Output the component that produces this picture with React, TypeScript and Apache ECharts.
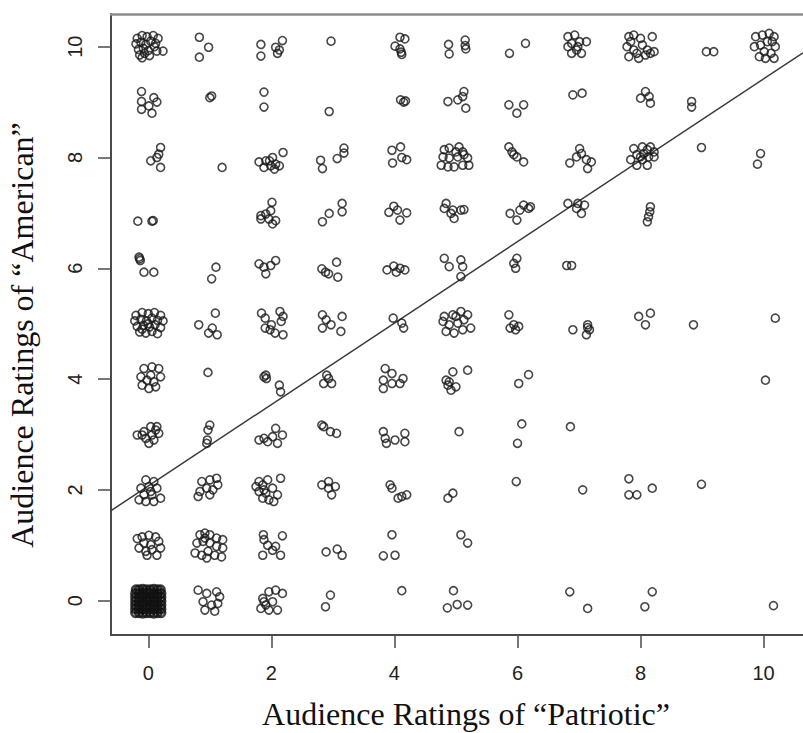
import { useEffect, useRef } from "react";
import * as echarts from "echarts";

// Axis ticks and titles
const xTicks = [0, 2, 4, 6, 8, 10];
const yTicks = [0, 2, 4, 6, 8, 10];
const xTitle = "Audience Ratings of \u201cPatriotic\u201d";
const yTitle = "Audience Ratings of \u201cAmerican\u201d";

// Jittered responses: [patriotic rating, american rating], grouped by the "American" rating
const americanTen: [number, number][] = [
  [-0.18, 10.15], [-0.1, 10.2], [-0.02, 10.18], [0.08, 10.2], [0.16, 10.15], [-0.2, 10.05], [-0.12, 10.08],
  [-0.04, 10.04], [0.04, 10.1], [0.12, 10.06], [-0.16, 9.95], [-0.08, 9.97], [0.0, 9.93], [-0.14, 9.85],
  [-0.06, 9.88], [0.02, 9.84], [0.14, 9.92], [0.24, 9.92], [-0.1, 9.8], [0.1, 10.0],
  [0.83, 10.17], [0.98, 9.99], [0.83, 9.81],
  [1.83, 10.04], [1.83, 9.83], [2.07, 9.99], [2.1, 9.88], [2.18, 10.11], [2.13, 9.94],
  [2.97, 10.1],
  [4.01, 10.01], [4.09, 10.17], [4.17, 10.14], [4.11, 9.9], [4.12, 9.86], [4.09, 9.96],
  [4.88, 10.04], [4.89, 9.87], [5.15, 10.12], [5.15, 10.02], [5.16, 9.96],
  [5.87, 9.88], [6.13, 10.06],
  [6.82, 10.18], [6.93, 10.21], [6.88, 10.06], [7.01, 10.09], [7.12, 10.09], [6.96, 9.94], [6.88, 9.88],
  [7.04, 9.88], [6.82, 10.0], [6.98, 10.0],
  [7.81, 10.18], [7.89, 10.21], [8.0, 10.15], [8.19, 10.18], [7.78, 10.0], [7.89, 9.94], [8.03, 10.03],
  [8.11, 9.94], [8.22, 9.91], [7.81, 9.82], [7.94, 9.88], [8.08, 9.85], [8.16, 9.88], [7.97, 9.79], [7.84, 10.09],
  [9.07, 9.91], [9.19, 9.91],
  [9.87, 10.18], [9.98, 10.21], [10.09, 10.24], [10.17, 10.18], [10.14, 10.09], [9.85, 10.0], [9.95, 10.03],
  [10.06, 10.09], [10.19, 10.0], [9.93, 9.82], [10.03, 9.79], [10.17, 9.79], [10.12, 9.88], [10.01, 9.91],
];

const americanNine: [number, number][] = [
  [-0.11, 9.19], [-0.11, 9.01], [-0.11, 8.87], [0.09, 9.08], [0.14, 9.0], [0.06, 8.8], [0.01, 8.93],
  [1.0, 9.08], [1.03, 9.11],
  [1.88, 9.18], [1.88, 8.91],
  [2.94, 8.83],
  [4.1, 9.04], [4.15, 9.0], [4.18, 9.02],
  [4.87, 9.01], [5.03, 9.04], [5.13, 9.19], [5.16, 8.89], [5.11, 9.1],
  [5.86, 8.95], [5.99, 8.8], [6.1, 8.95],
  [6.9, 9.13], [7.05, 9.16],
  [8.08, 9.19], [8.0, 9.07], [8.16, 8.98], [8.14, 9.1],
  [8.83, 9.01], [8.83, 8.91],
];

const americanEight: [number, number][] = [
  [0.2, 8.18], [0.17, 8.06], [0.04, 7.94], [0.2, 7.82], [0.14, 8.0],
  [1.2, 7.82],
  [1.8, 7.92], [1.88, 7.82], [1.97, 7.94], [2.02, 8.0], [2.07, 7.88], [2.13, 7.85], [2.19, 8.09], [2.05, 7.79],
  [1.91, 7.94], [1.99, 7.85],
  [2.8, 7.95], [2.83, 7.8], [3.07, 7.98], [3.18, 8.17], [3.18, 8.08],
  [3.96, 8.13], [4.1, 8.19], [3.97, 7.9], [4.12, 8.0], [4.2, 7.96],
  [4.81, 8.14], [4.89, 8.17], [5.05, 8.19], [5.11, 8.1], [4.79, 8.01], [4.89, 7.99], [5.03, 8.01], [5.19, 7.99],
  [4.76, 7.86], [4.87, 7.83], [4.97, 7.83], [5.11, 7.86], [5.21, 7.86], [5.13, 8.05], [5.0, 8.1],
  [5.86, 8.19], [5.94, 8.05], [6.1, 7.92], [5.99, 8.01], [5.91, 8.1],
  [7.01, 8.16], [6.96, 8.01], [6.85, 7.9], [7.12, 7.96], [7.2, 7.92], [7.14, 7.8], [7.04, 8.07],
  [7.89, 8.16], [8.03, 8.19], [8.16, 8.19], [8.22, 8.1], [7.84, 7.96], [7.94, 8.05], [8.05, 8.07], [8.13, 8.01],
  [8.22, 8.01], [7.94, 7.86], [8.11, 7.86], [8.03, 7.96], [8.11, 8.14], [8.0, 8.01],
  [8.99, 8.18],
  [9.95, 8.07], [9.9, 7.88],
];

const americanSeven: [number, number][] = [
  [-0.17, 6.85], [0.06, 6.85], [0.08, 6.86],
  [2.01, 7.19], [1.99, 7.04], [1.83, 6.95], [1.83, 6.89], [1.96, 6.89], [2.07, 6.86], [2.02, 6.8], [1.91, 6.98],
  [2.83, 6.84], [2.94, 6.99], [3.15, 7.17], [3.15, 7.02],
  [3.91, 7.01], [3.99, 7.12], [4.05, 7.05], [4.2, 7.0], [4.09, 6.87],
  [4.84, 7.17], [4.81, 7.08], [4.92, 6.99], [4.97, 6.9], [5.08, 7.05], [5.13, 7.06], [4.95, 7.05],
  [5.88, 6.99], [5.99, 6.87], [6.1, 7.14], [6.18, 7.08], [6.04, 7.05], [6.21, 7.11],
  [6.82, 7.17], [6.98, 7.17], [7.09, 7.14], [6.96, 7.08], [7.04, 6.99],
  [8.16, 7.11], [8.15, 7.02], [8.13, 6.93], [8.11, 6.84],
];

const americanSix: [number, number][] = [
  [-0.15, 6.2], [-0.13, 6.14], [-0.07, 5.93], [0.09, 5.93], [-0.14, 6.17],
  [1.1, 6.02], [1.03, 5.81],
  [1.8, 6.08], [1.88, 6.02], [1.91, 5.9], [2.07, 6.14], [1.99, 6.05],
  [2.82, 5.99], [2.88, 5.93], [3.06, 6.11], [3.08, 5.84], [2.93, 5.9],
  [3.88, 5.97], [3.99, 6.04], [4.09, 6.0], [4.17, 5.97], [4.03, 5.93],
  [4.81, 6.18], [4.89, 6.03], [5.08, 6.15], [5.11, 6.03], [5.08, 5.85],
  [5.94, 6.09], [5.99, 6.18], [5.97, 6.0],
  [6.8, 6.05], [6.88, 6.05],
];

const americanFive: [number, number][] = [
  [-0.2, 5.15], [-0.1, 5.2], [0.0, 5.18], [0.1, 5.2], [0.2, 5.15], [-0.22, 5.05], [-0.12, 5.08], [-0.03, 5.05],
  [0.06, 5.1], [0.15, 5.06], [0.24, 5.05], [-0.18, 4.95], [-0.08, 4.97], [0.02, 4.94], [0.11, 4.98], [0.2, 4.93],
  [-0.14, 4.85], [-0.04, 4.83], [0.06, 4.86], [0.15, 4.82], [0.0, 5.0], [-0.1, 4.9],
  [0.82, 4.98], [1.09, 5.19], [0.98, 4.83], [1.12, 4.8], [1.04, 4.92],
  [1.84, 5.19], [1.9, 5.1], [2.14, 5.22], [2.19, 5.13], [2.16, 5.04], [1.9, 4.92], [1.98, 4.89], [2.06, 4.83],
  [2.19, 4.8], [2.0, 4.98],
  [2.83, 5.16], [2.89, 5.07], [2.97, 4.98], [3.15, 5.13], [3.13, 4.86], [2.83, 4.92],
  [3.98, 5.1], [4.12, 5.01], [4.15, 4.92],
  [4.81, 5.13], [4.95, 5.16], [5.08, 5.22], [5.19, 5.16], [4.79, 5.04], [4.89, 4.98], [5.03, 5.01], [5.13, 5.07],
  [5.24, 4.92], [4.84, 4.86], [4.97, 4.83], [5.11, 4.89], [5.0, 5.13],
  [5.86, 5.16], [5.88, 4.92], [5.97, 4.89], [6.02, 4.95], [5.94, 4.98],
  [6.9, 4.89], [7.14, 4.98], [7.17, 4.89], [7.12, 4.8], [7.14, 4.93],
  [7.97, 5.13], [8.16, 5.19], [8.08, 4.98],
  [8.86, 4.98],
  [10.19, 5.1],
];

const americanFour: [number, number][] = [
  [-0.07, 4.19], [0.06, 4.22], [0.17, 4.19], [0.2, 4.04], [-0.12, 4.04], [-0.02, 3.98], [0.09, 3.95], [0.01, 3.83],
  [-0.1, 3.89], [0.12, 3.86], [0.04, 4.07],
  [0.97, 4.12],
  [1.88, 4.04], [1.92, 4.01], [2.13, 3.89], [2.15, 3.77], [1.91, 4.07],
  [2.9, 4.07], [2.85, 3.92], [2.98, 3.92], [2.93, 4.01],
  [3.85, 4.19], [3.96, 4.1], [3.82, 3.98], [3.96, 3.92], [3.82, 3.83], [4.14, 4.01], [4.09, 3.92],
  [4.95, 4.13], [5.19, 4.16], [4.84, 3.98], [4.87, 3.89], [4.92, 3.8], [5.0, 3.86], [4.89, 3.95],
  [6.02, 3.92], [6.18, 4.08],
  [10.03, 3.98],
];

const americanThree: [number, number][] = [
  [-0.18, 2.99], [-0.07, 3.05], [0.04, 3.14], [0.12, 3.08], [0.17, 3.02], [-0.04, 2.93], [0.01, 2.84], [0.09, 2.9],
  [-0.1, 2.99], [0.06, 2.99], [0.14, 3.14],
  [1.0, 3.17], [0.97, 3.08], [0.96, 2.9], [0.95, 2.84],
  [1.8, 2.9], [1.88, 2.93], [1.94, 2.87], [2.07, 3.11], [2.18, 2.99], [2.1, 2.84], [2.02, 2.96],
  [2.82, 3.17], [2.85, 3.14], [2.96, 3.05], [3.06, 3.02],
  [3.82, 3.05], [3.87, 2.84], [4.01, 2.9], [4.17, 3.02], [4.17, 2.87], [3.85, 2.93],
  [5.05, 3.05],
  [6.07, 3.19], [6.0, 2.84],
  [6.86, 3.14],
];

const americanTwo: [number, number][] = [
  [-0.04, 2.18], [0.09, 2.15], [-0.12, 2.03], [0.01, 2.06], [0.14, 2.03], [-0.07, 1.91], [0.06, 1.91], [0.2, 1.85],
  [-0.15, 1.82], [-0.04, 1.79], [0.09, 1.79], [0.04, 1.97],
  [0.87, 2.15], [1.0, 2.18], [1.11, 2.21], [1.13, 2.09], [0.84, 1.97], [0.81, 1.88], [0.95, 2.03], [1.05, 2.0],
  [1.0, 1.91],
  [1.8, 2.15], [1.86, 2.09], [1.94, 2.18], [2.15, 2.21], [1.75, 2.06], [1.88, 2.0], [2.02, 2.03], [2.1, 1.91],
  [1.86, 1.85], [1.96, 1.82], [2.04, 1.79], [1.91, 1.94], [1.8, 1.97],
  [2.82, 2.09], [2.93, 2.15], [3.04, 2.06], [2.98, 1.91], [2.93, 2.03],
  [3.93, 2.09], [3.96, 2.03], [4.12, 1.88], [4.2, 1.91], [4.06, 1.85],
  [4.87, 1.85], [4.95, 1.94],
  [5.98, 2.15],
  [7.06, 2.0],
  [7.81, 2.2], [7.81, 1.91], [7.94, 1.91], [8.19, 2.03],
  [8.99, 2.1],
];

const americanOne: [number, number][] = [
  [-0.18, 1.12], [-0.1, 1.15], [0.01, 1.18], [0.12, 1.15], [-0.07, 1.04], [0.04, 1.01], [0.17, 1.07], [-0.15, 0.95],
  [-0.04, 0.89], [0.06, 0.92], [0.2, 0.95], [-0.02, 0.82], [0.14, 0.82],
  [0.84, 1.19], [0.92, 1.22], [1.0, 1.19], [1.11, 1.13], [1.21, 1.1], [0.79, 1.04], [0.89, 1.07], [1.0, 1.04],
  [1.11, 0.98], [1.21, 0.95], [0.76, 0.86], [0.87, 0.82], [0.97, 0.89], [1.08, 0.82], [1.19, 0.79], [0.95, 0.77],
  [0.92, 1.13],
  [1.87, 1.19], [1.88, 1.1], [2.18, 1.17], [1.94, 1.0], [2.02, 0.91], [1.86, 0.82], [2.15, 0.82], [2.07, 0.98],
  [2.89, 0.88], [3.07, 0.93], [3.15, 0.82],
  [3.96, 1.19], [3.82, 0.81], [4.01, 0.82],
  [5.08, 1.19], [5.19, 1.04],
];

const americanZero: [number, number][] = [
  [0.81, 0.19], [0.95, 0.13], [1.11, 0.16], [1.16, 0.07], [0.89, -0.02], [1.03, -0.08], [1.13, -0.05], [0.92, -0.17],
  [1.08, -0.19],
  [1.96, 0.16], [2.07, 0.19], [2.18, 0.13], [1.86, 0.04], [1.91, -0.08], [2.02, -0.02], [2.1, -0.17], [1.83, -0.14],
  [1.96, -0.17], [1.88, -0.02],
  [2.96, 0.1], [2.88, -0.11],
  [4.12, 0.18],
  [4.96, 0.18], [4.86, -0.13], [5.02, -0.07], [5.19, -0.08],
  [6.85, 0.16],
  [7.14, -0.14],
  [8.19, 0.16], [8.07, -0.11],
  [10.16, -0.09],
];

// The heavily overplotted block of respondents who rated both words 0
const bothZero: [number, number][] = [
  [-0.21, -0.22], [-0.15, -0.22], [-0.09, -0.23], [-0.03, -0.22], [0.03, -0.22], [0.09, -0.23], [0.15, -0.22], [0.21, -0.22],
  [-0.21, -0.15], [-0.15, -0.15], [-0.09, -0.16], [-0.03, -0.15], [0.03, -0.15], [0.09, -0.15], [0.15, -0.16], [0.21, -0.15],
  [-0.21, -0.08], [-0.15, -0.08], [-0.09, -0.08], [-0.03, -0.09], [0.03, -0.08], [0.09, -0.08], [0.15, -0.08], [0.21, -0.08],
  [-0.21, -0.01], [-0.15, -0.01], [-0.09, -0.01], [-0.03, -0.01], [0.03, 0.0], [0.09, -0.01], [0.15, -0.01], [0.21, -0.01],
  [-0.21, 0.06], [-0.15, 0.06], [-0.09, 0.07], [-0.03, 0.06], [0.03, 0.06], [0.09, 0.06], [0.15, 0.07], [0.21, 0.06],
  [-0.21, 0.13], [-0.15, 0.13], [-0.09, 0.13], [-0.03, 0.14], [0.03, 0.13], [0.09, 0.13], [0.15, 0.13], [0.21, 0.13],
  [-0.2, 0.2], [-0.15, 0.2], [-0.09, 0.21], [-0.03, 0.2], [0.03, 0.2], [0.09, 0.21], [0.15, 0.2], [0.2, 0.2],
];

// Least-squares fit of "American" on "Patriotic"
const fitIntercept = 2.07;
const fitSlope = 0.735;

// Visible axis ranges
const X_MIN = -0.606;
const X_MAX = 10.64;
const Y_MIN = -0.62;
const Y_MAX = 10.59;

const responses = [
  ...americanTen, ...americanNine, ...americanEight, ...americanSeven, ...americanSix, ...americanFive,
  ...americanFour, ...americanThree, ...americanTwo, ...americanOne, ...americanZero,
];

const AXIS_DARK = "#4a4a4a";
const RING = "#1a1a1a";

export default function App() {
  const ref = useRef<HTMLDivElement>(null);

  useEffect(() => {
    if (!ref.current) return;
    const chart = echarts.init(ref.current, undefined, { renderer: "svg" });

    const tickLabel = {
      fontSize: 20,
      fontFamily: "Liberation Sans",
      color: "#222",
    };

    chart.setOption({
      animation: false,
      backgroundColor: "#ffffff",
      grid: { left: 111, top: 14, width: 700, height: 621, containLabel: false },
      xAxis: [
        {
          type: "value",
          min: X_MIN,
          max: X_MAX,
          position: "bottom",
          splitLine: { show: false },
          axisLine: { show: true, onZero: false, lineStyle: { color: AXIS_DARK, width: 2 } },
          axisTick: {
            show: true,
            customValues: xTicks,
            length: 13,
            lineStyle: { color: AXIS_DARK, width: 1.5 },
          },
          axisLabel: { customValues: xTicks, margin: 28, ...tickLabel },
        },
        {
          type: "value",
          min: X_MIN,
          max: X_MAX,
          position: "top",
          splitLine: { show: false },
          axisLine: { show: true, onZero: false, lineStyle: { color: "#8c8c8c", width: 2.5 } },
          axisTick: { show: false },
          axisLabel: { show: false },
        },
      ],
      yAxis: {
        type: "value",
        min: Y_MIN,
        max: Y_MAX,
        position: "left",
        splitLine: { show: false },
        axisLine: { show: true, onZero: false, lineStyle: { color: AXIS_DARK, width: 2 } },
        axisTick: {
          show: true,
          customValues: yTicks,
          length: 13,
          lineStyle: { color: AXIS_DARK, width: 1.5 },
        },
        axisLabel: { customValues: yTicks, margin: 26, rotate: 90, ...tickLabel },
      },
      graphic: [
        {
          type: "text",
          x: 466,
          y: 714,
          style: {
            text: xTitle,
            fontSize: 32,
            fontFamily: "Liberation Serif",
            fill: "#111",
            textAlign: "center",
            textVerticalAlign: "middle",
          },
        },
        {
          type: "text",
          x: 22,
          y: 335,
          rotation: Math.PI / 2,
          style: {
            text: yTitle,
            fontSize: 32,
            fontFamily: "Liberation Serif",
            fill: "#111",
            textAlign: "center",
            textVerticalAlign: "middle",
          },
        },
      ],
      series: [
        {
          type: "line",
          xAxisIndex: 0,
          yAxisIndex: 0,
          data: [
            [X_MIN, fitIntercept + fitSlope * X_MIN],
            [X_MAX, fitIntercept + fitSlope * X_MAX],
          ],
          showSymbol: false,
          silent: true,
          lineStyle: { color: "#3a3a3a", width: 1.5 },
          z: 1,
        },
        {
          type: "scatter",
          xAxisIndex: 0,
          yAxisIndex: 0,
          data: responses,
          symbol: "circle",
          symbolSize: 8,
          silent: true,
          itemStyle: { color: "rgba(0,0,0,0)", borderColor: RING, borderWidth: 1.6 },
          z: 2,
        },
        {
          type: "scatter",
          xAxisIndex: 0,
          yAxisIndex: 0,
          data: bothZero,
          symbol: "circle",
          symbolSize: 8,
          silent: true,
          itemStyle: { color: "rgba(0,0,0,0)", borderColor: "#111", borderWidth: 2.6 },
          z: 2,
        },
      ],
    });

    return () => chart.dispose();
  }, []);

  return (
    <div
      ref={ref}
      style={{ position: "fixed", left: 0, top: 0, width: 803, height: 733, background: "#fff" }}
    />
  );
}
